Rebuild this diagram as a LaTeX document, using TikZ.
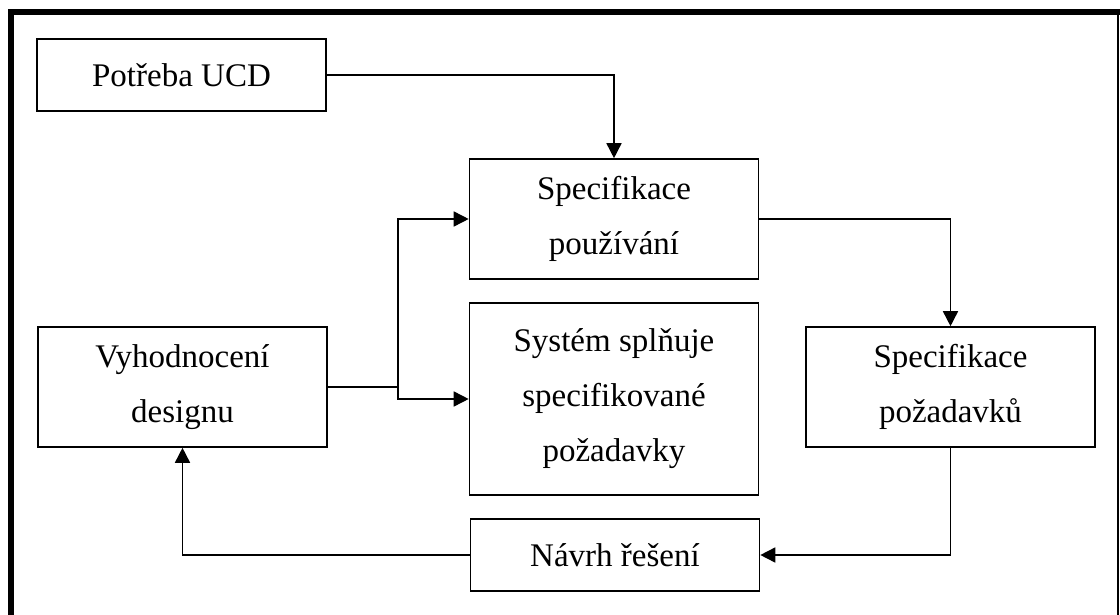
\documentclass[tikz,border=0pt]{standalone}
\usepackage{fontspec}
\setmainfont{Liberation Serif}
\usetikzlibrary{arrows.meta}

\begin{document}
\begin{tikzpicture}[x=0.5pt, y=-0.5pt, main/.style={draw, rectangle, line width=0.8pt, minimum width=144.5pt, align=center, inner sep=0pt, font=\fontsize{16.5}{27.5}\selectfont}, n/.style={-{Triangle[length=7.5pt, width=7.5pt]}, line width=0.8pt}, l/.style={line width=0.8pt}]
            \useasboundingbox (0,0) rectangle (1120,615);
            % frame
            \draw [line width=3pt] (11,615) -- (11,12) -- (1120,12);
            \draw [line width=0.9pt] (1118,12) -- (1118,615);
            % nodes
            \node[main, minimum height=36pt] (potreba) at (181.5,75) {Potřeba UCD};
            \node[main, minimum height=60pt] (spec) at (614,219) {Specifikace\\používání};
            \node[main, minimum height=96pt] (system) at (614,399) {Systém splňuje\\specifikované\\požadavky};
            \node[main, minimum height=60pt] (pozad) at (950.5,387) {Specifikace\\požadavků};
            \node[main, minimum height=60pt] (vyhod) at (182.5,387) {Vyhodnocení\\designu};
            \node[main, minimum height=36pt] (navrh) at (615,555) {Návrh řešení};
            \coordinate (split) at (398,387);
            % edges
            \draw [n] (potreba.east) -| (spec.north);
            \draw [n] (spec.east) -| (pozad.north);
            \draw [n] (pozad.south) |- (navrh.east);
            \draw [n] (navrh.west) -| (vyhod.south);
            \draw [l] (vyhod.east) -- (split);
            \draw [n] (split) |- (spec.west);
            \draw [n] (split) |- (system.west);
        \end{tikzpicture}
\end{document}
